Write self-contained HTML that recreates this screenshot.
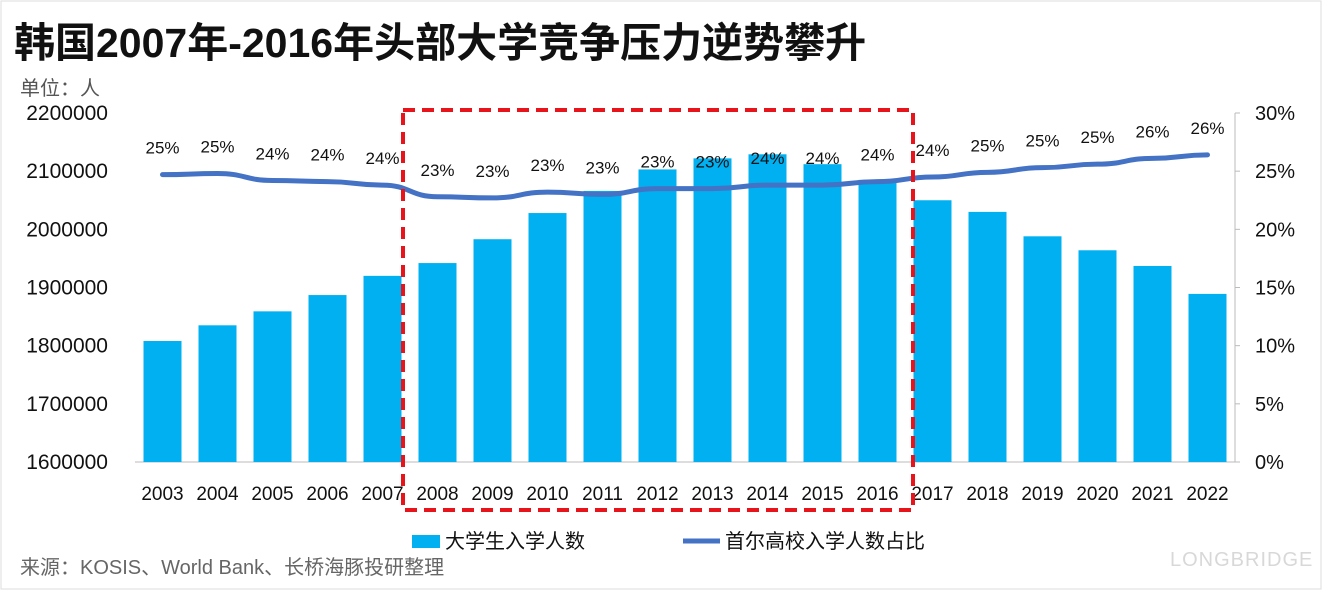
<!DOCTYPE html>
<html><head><meta charset="utf-8"><style>
body{margin:0;background:#fff;width:1322px;height:590px;overflow:hidden;font-family:"Liberation Sans","Noto Sans CJK SC",sans-serif}
</style></head><body>
<svg width="1322" height="590" xmlns="http://www.w3.org/2000/svg" font-family="Liberation Sans, Noto Sans CJK SC, sans-serif">
<rect x="1" y="1" width="1320" height="588" fill="#fff" stroke="#ddd"/>
<text x="14" y="57" font-size="41" font-weight="bold" fill="#111">韩国2007年-2016年头部大学竞争压力逆势攀升</text>
<text x="20" y="95" font-size="20" fill="#555">单位：人</text>
<g id="g"></g>
<rect x="403" y="110" width="510" height="400" fill="none" stroke="#e8141b" stroke-width="4" stroke-dasharray="12,7"/>
<rect x="412" y="535" width="28" height="13" fill="#00b0f0"/>
<text x="445" y="548" font-size="20" fill="#111">大学生入学人数</text>
<line x1="683" y1="541" x2="720" y2="541" stroke="#4472c4" stroke-width="5"/>
<text x="725" y="548" font-size="20" fill="#111">首尔高校入学人数占比</text>
<text x="20" y="574" font-size="20" fill="#666">来源：KOSIS、World Bank、长桥海豚投研整理</text>
<text x="1170" y="566" font-size="20" fill="#d8d8d8" letter-spacing="1">LONGBRIDGE</text>
</svg>
<script>
const years=["2003","2004","2005","2006","2007","2008","2009","2010","2011","2012","2013","2014","2015","2016","2017","2018","2019","2020","2021","2022"];
const students=[1808000,1835000,1859000,1887000,1920000,1942000,1983000,2028000,2066000,2103000,2122000,2129000,2112000,2085000,2050000,2030000,1988000,1964000,1937000,1889000];
const share=[24.7,24.8,24.2,24.1,23.8,22.8,22.7,23.2,23.0,23.5,23.5,23.8,23.8,24.1,24.5,24.9,25.3,25.6,26.1,26.4];
const shareLabels=["25%","25%","24%","24%","24%","23%","23%","23%","23%","23%","23%","24%","24%","24%","24%","25%","25%","25%","26%","26%"];
const leftTicks=[1600000,1700000,1800000,1900000,2000000,2100000,2200000];
const rightTicks=[0,5,10,15,20,25,30];
const NS="http://www.w3.org/2000/svg",g=document.getElementById('g');
const x0=135,x1=1235,yB=462,yT=113,step=(x1-x0)/years.length;
const xc=i=>x0+step*(i+0.5);
const yL=v=>yB-(v-1600000)/600000*(yB-yT);
const yR=v=>yB-v/30*(yB-yT);
function mk(t,a,txt){const e=document.createElementNS(NS,t);for(const k in a)e.setAttribute(k,a[k]);if(txt!=null)e.textContent=txt;g.appendChild(e);return e;}
leftTicks.forEach(v=>{const e=mk('text',{x:108,y:yL(v)+7,'font-size':21,'text-anchor':'end',fill:'#111'},String(v));

});
rightTicks.forEach(v=>{const e=mk('text',{x:1255,y:yR(v)+7,'font-size':20,fill:'#111'},v+'%');

});
const ax=mk('line',{x1:x0,y1:yB,x2:x1,y2:yB,stroke:'#bbb'});


const ax2=mk('line',{x1:x1,y1:yT,x2:x1,y2:yB,stroke:'#bbb'});


for(let k=0;k<=6;k++){const t=mk('line',{x1:x1,y1:yR(k*5),x2:x1+5,y2:yR(k*5),stroke:'#bbb'});

}
years.forEach((yr,i)=>{const bw=38,yy=yL(students[i]);
const b=mk('rect',{x:xc(i)-bw/2,y:yy,width:bw,height:yB-yy,fill:'#00b0f0'});


const l=mk('text',{x:xc(i),y:500,'font-size':19,'text-anchor':'middle',fill:'#111'},yr);

});
let d='';const pts=share.map((v,i)=>[xc(i),yR(v)]);
pts.forEach((p,i)=>{if(i==0)d='M'+p[0]+','+p[1];else{const p0=pts[i-1],m=(p[0]-p0[0])/2;d+=` C${p0[0]+m},${p0[1]} ${p[0]-m},${p[1]} ${p[0]},${p[1]}`;}});
const ln=mk('path',{d:d,fill:'none',stroke:'#4472c4','stroke-width':5,'stroke-linecap':'round'});


shareLabels.forEach((s,i)=>{const t=mk('text',{x:xc(i),y:yR(share[i])-21,'font-size':17,'text-anchor':'middle',fill:'#111'},s);

});
</script>
</body></html>
